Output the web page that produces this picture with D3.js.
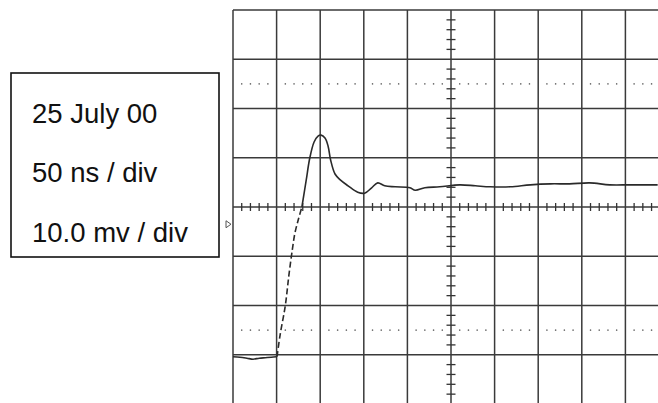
<!DOCTYPE html>
<html>
<head>
<meta charset="utf-8">
<script src="https://cdn.jsdelivr.net/npm/d3@7"></script>
<style>
html,body{margin:0;padding:0;background:#fff;}
svg{display:block;}
</style>
</head>
<body>
<div id="chart"></div>
<script>
// ---- data ----
const infoLabels = ["25 July 00", "50 ns / div", "10.0 mv / div"];
// time (ns from left edge of screen), voltage (mV, 0 = screen centre)
const baseTime  = [0, 8, 16, 23, 30, 37, 44, 50];
const baseVolt  = [-30.4, -30.5, -30.7, -30.9, -30.7, -30.6, -30.5, -30.4];
const edgeTime  = [50.5, 54, 60, 64, 68, 71, 75, 79];
const edgeVolt  = [-30.4, -26, -20, -14, -8.7, -5.3, -2.5, 0];
const traceTime = [79, 84, 88, 93, 97.5, 101, 105.5, 109, 112, 117, 123, 132, 143, 151, 159, 166, 174, 186, 203, 209, 220, 237, 260, 278, 295, 318, 341, 364, 386, 409, 432, 455, 487];
const traceVolt = [0, 5.5, 9.9, 13.2, 14.4, 14.6, 14.0, 12.4, 9.5, 6.7, 5.5, 4.3, 3.0, 2.8, 3.9, 4.9, 4.3, 4.1, 3.9, 3.4, 3.9, 4.1, 4.5, 4.3, 4.1, 4.1, 4.5, 4.7, 4.7, 4.9, 4.5, 4.5, 4.5];
const timeDivs = [0, 50, 100, 150, 200, 250, 300, 350, 400, 450, 500];
const voltDivs = [-40, -30, -20, -10, 0, 10, 20, 30, 40];
const markerLevels = [-25, 25];

// ---- layout ----
const W = 658, H = 403;
const svg = d3.select("#chart").append("svg").attr("width", W).attr("height", H);

const x = d3.scaleLinear().domain([0, 500]).range([233, 669]);
const y = d3.scaleLinear().domain([-40, 40]).range([404, 10]);

const g = svg.append("g");

// major graticule
g.selectAll("line.vx").data(timeDivs).join("line")
  .attr("x1", d => x(d)).attr("x2", d => x(d))
  .attr("y1", y(40)).attr("y2", y(-40))
  .attr("stroke", "#3a3a3a").attr("stroke-width", 1.5);
g.selectAll("line.hy").data(voltDivs).join("line")
  .attr("x1", x(0)).attr("x2", x(500))
  .attr("y1", d => y(d)).attr("y2", d => y(d))
  .attr("stroke", "#3a3a3a").attr("stroke-width", 1.5);

// minor ticks on centre lines
const minorT = d3.range(0, 500, 10).filter(d => d % 50 !== 0);
const minorV = d3.range(-40, 40, 2).filter(d => d % 10 !== 0);
g.selectAll("line.mt").data(minorT).join("line")
  .attr("x1", d => x(d)).attr("x2", d => x(d))
  .attr("y1", y(0) - 4).attr("y2", y(0) + 4)
  .attr("stroke", "#333").attr("stroke-width", 1.3);
g.selectAll("line.mv").data(minorV).join("line")
  .attr("x1", x(250) - 4.5).attr("x2", x(250) + 4.5)
  .attr("y1", d => y(d)).attr("y2", d => y(d))
  .attr("stroke", "#333").attr("stroke-width", 1.3);

// dotted rise-time marker lines
markerLevels.forEach(lv => {
  g.selectAll(null).data(minorT).join("circle")
    .attr("cx", d => x(d)).attr("cy", y(lv)).attr("r", 0.8)
    .attr("fill", "#666");
});

// ground marker
const gy = y(-3.5);
g.append("path")
  .attr("d", `M${x(0) - 7},${gy - 3.5} L${x(0) - 2},${gy} L${x(0) - 7},${gy + 3.5} Z`)
  .attr("fill", "none").attr("stroke", "#555").attr("stroke-width", 1);

// trace
const line = d3.line().x(d => x(d[0])).y(d => y(d[1])).curve(d3.curveCatmullRom.alpha(0.5));
const basePts = baseTime.map((t, i) => [t, baseVolt[i]]);
const edgePts = edgeTime.map((t, i) => [t, edgeVolt[i]]);
const tracePts = traceTime.map((t, i) => [t, traceVolt[i]]);
g.append("path").attr("d", line(basePts)).attr("fill", "none")
  .attr("stroke", "#2a2a2a").attr("stroke-width", 1.6);
g.append("path").attr("d", line(edgePts)).attr("fill", "none")
  .attr("stroke", "#2a2a2a").attr("stroke-width", 1.6).attr("stroke-dasharray", "6,3");
g.append("path").attr("d", line(tracePts)).attr("fill", "none")
  .attr("stroke", "#2a2a2a").attr("stroke-width", 1.6);

// info box
svg.append("rect").attr("x", 11).attr("y", 73).attr("width", 208).attr("height", 184)
  .attr("fill", "#fff").attr("stroke", "#111").attr("stroke-width", 1.6);
svg.selectAll("text.info").data(infoLabels).join("text")
  .attr("x", 32).attr("y", (d, i) => 122.5 + i * 59.5)
  .attr("font-family", "'Liberation Sans', Arial, sans-serif")
  .attr("font-size", 27.5).attr("fill", "#111")
  .text(d => d);
</script>
</body>
</html>
